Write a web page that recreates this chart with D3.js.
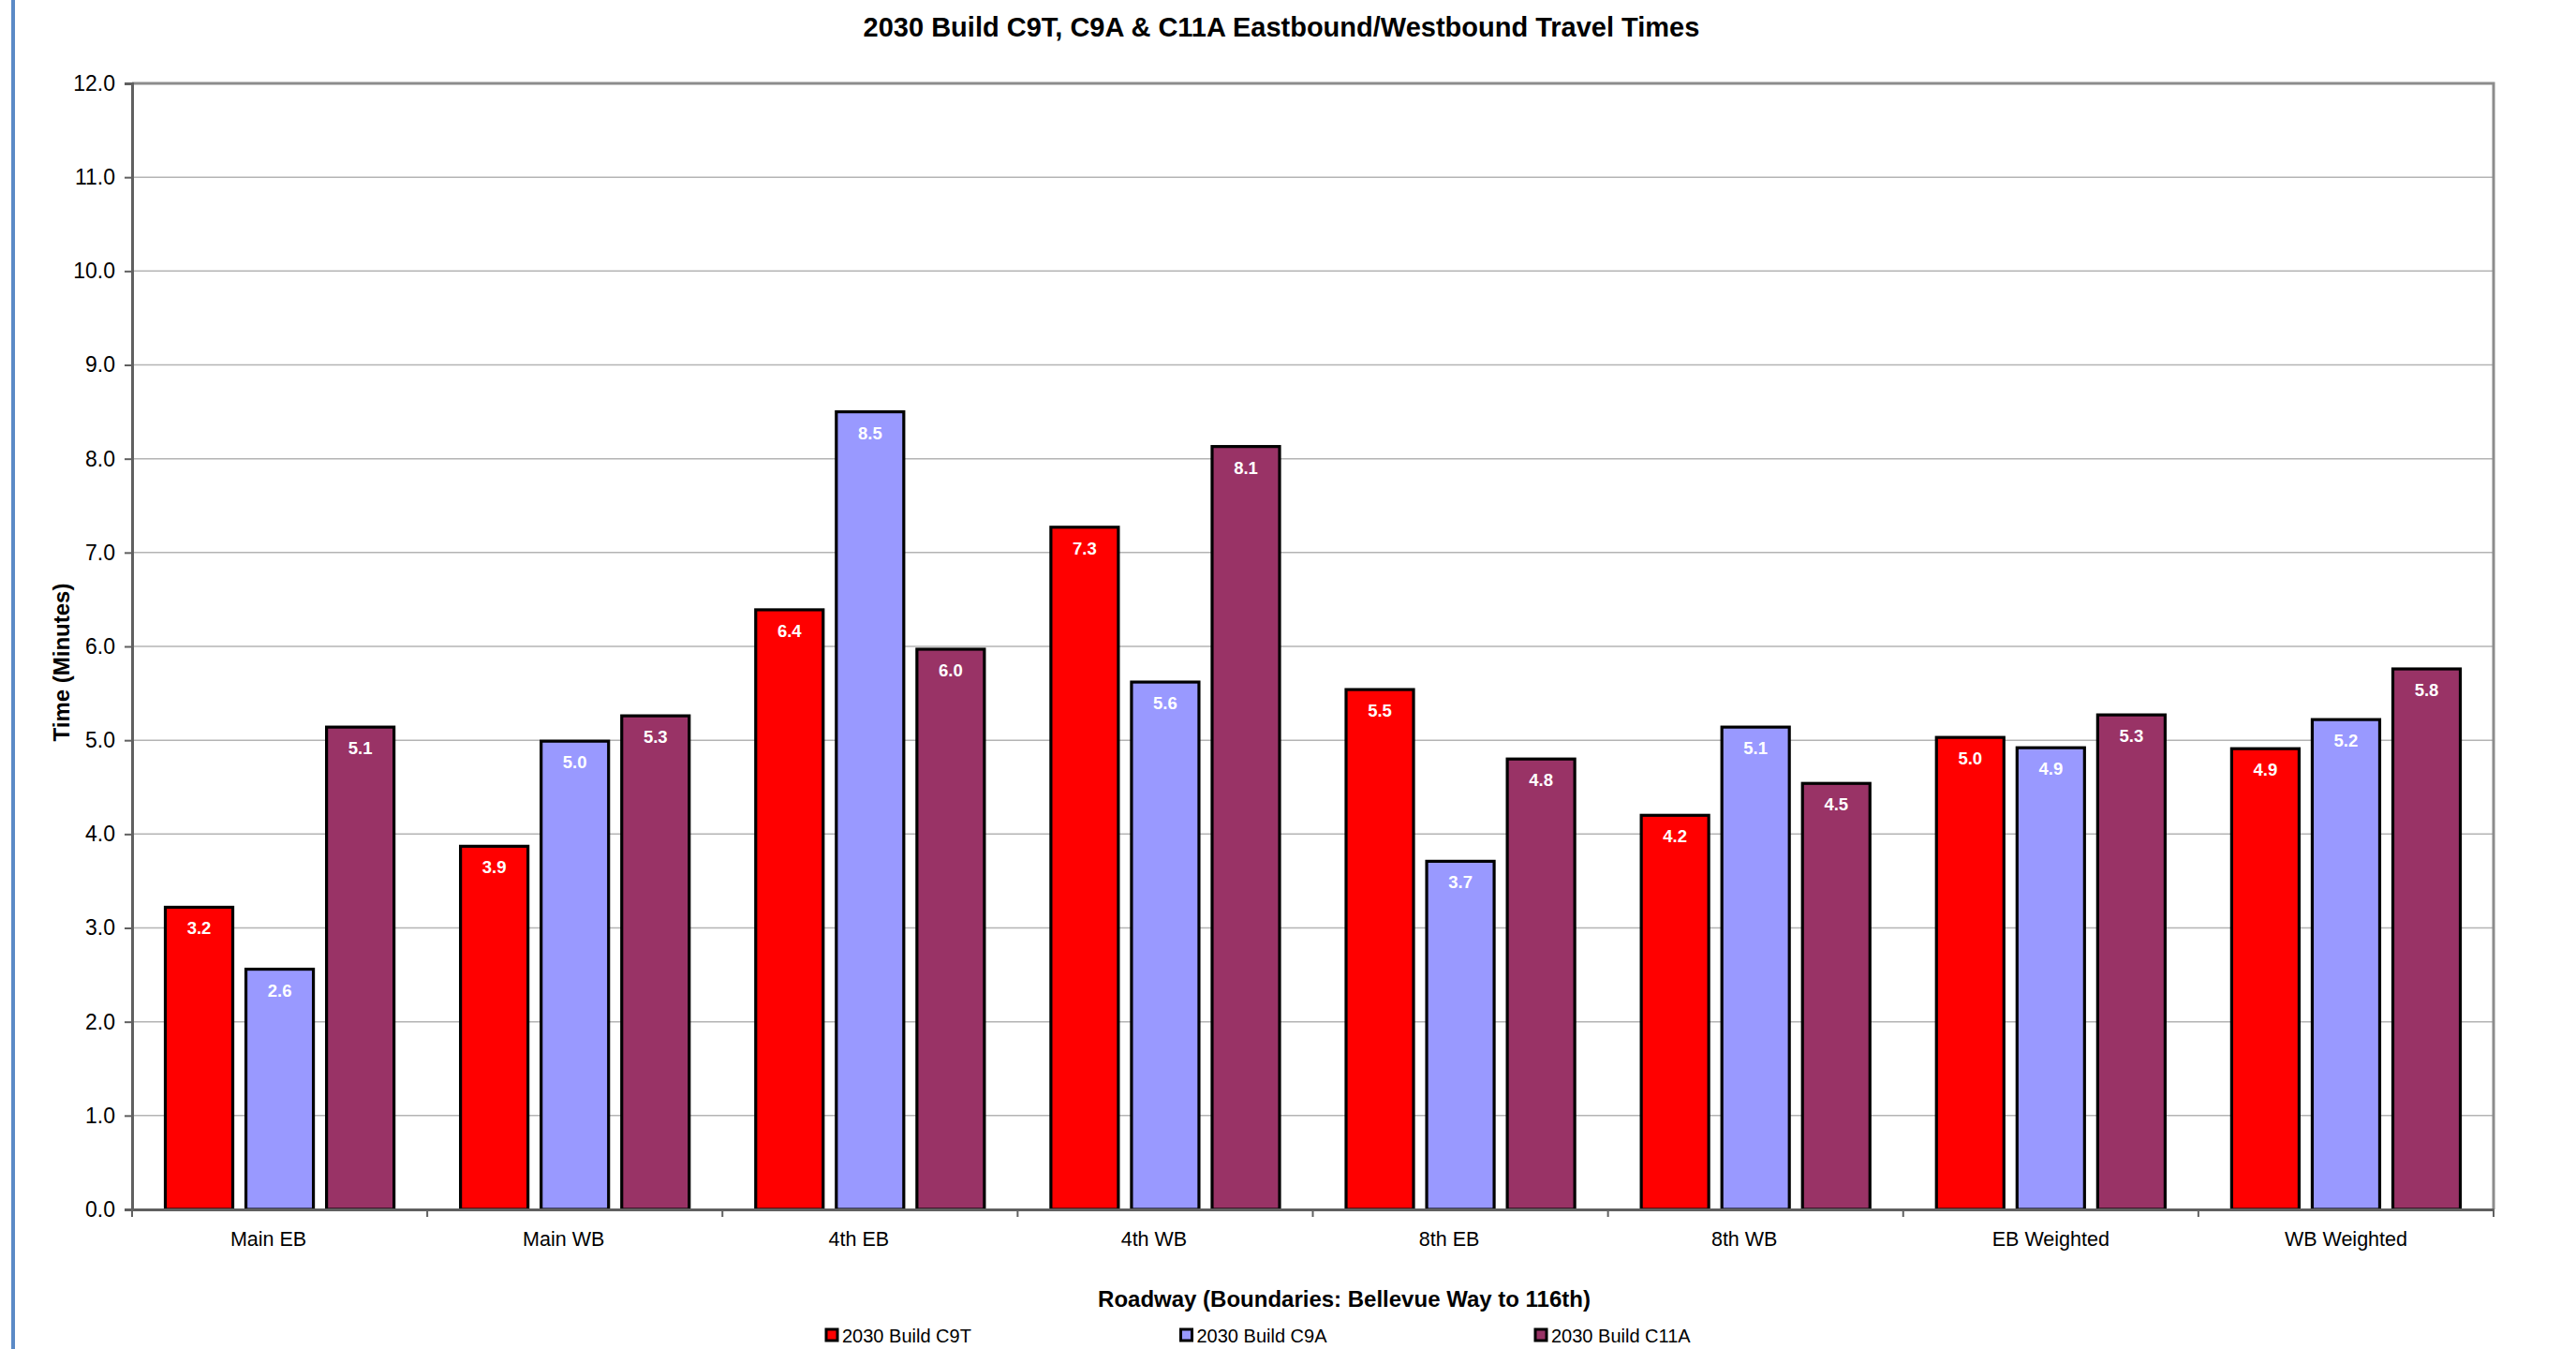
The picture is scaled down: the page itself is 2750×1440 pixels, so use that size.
<!DOCTYPE html>
<html>
<head>
<meta charset="utf-8">
<script src="https://cdn.jsdelivr.net/npm/d3@7"></script>
<style>
  body { margin: 0; background: #fff; }
  svg { display: block; font-family: 'Liberation Sans', Arial, sans-serif; }
</style>
</head>
<body>
<div id="chart"></div>
<script>
// data
var categories = ['Main EB', 'Main WB', '4th EB', '4th WB', '8th EB', '8th WB', 'EB Weighted', 'WB Weighted']
var seriesNames = ['2030 Build C9T', '2030 Build C9A', '2030 Build C11A']
var c9t = [3.22, 3.87, 6.39, 7.27, 5.54, 4.2, 5.03, 4.91]
var c9a = [2.56, 4.99, 8.5, 5.62, 3.71, 5.14, 4.92, 5.22]
var c11a = [5.14, 5.26, 5.97, 8.13, 4.8, 4.54, 5.27, 5.76]
var yTicks = [0, 1, 2, 3, 4, 5, 6, 7, 8, 9, 10, 11, 12]

var colors = ['#FF0000', '#9999FF', '#993366']
var seriesValues = [c9t, c9a, c11a]

var width = 2750
var height = 1440
var plot = { left: 141, top: 89, right: 2662, bottom: 1291 }

var svg = d3
  .select('#chart')
  .append('svg')
  .attr('width', width)
  .attr('height', height)

// blue rule on the left edge
svg
  .append('rect')
  .attr('x', 12)
  .attr('y', 0)
  .attr('width', 4)
  .attr('height', height)
  .attr('fill', '#5B8AC6')

var x0 = d3.scaleBand().domain(categories).range([plot.left, plot.right])
var x1 = d3
  .scaleBand()
  .domain(d3.range(3))
  .range([35.5, x0.bandwidth() - 35.5])
  .paddingInner(0.163)
var y = d3.scaleLinear().domain([0, 12]).range([plot.bottom, plot.top])

// gridlines
svg
  .append('g')
  .selectAll('line')
  .data(yTicks.slice(1, -1))
  .join('line')
  .attr('x1', plot.left)
  .attr('x2', plot.right)
  .attr('y1', (d) => y(d))
  .attr('y2', (d) => y(d))
  .attr('stroke', '#B4B4B4')
  .attr('stroke-width', 1.5)

// plot frame top / right
svg
  .append('path')
  .attr('d', 'M' + plot.left + ',' + y(12) + 'H' + plot.right + 'V' + plot.bottom)
  .attr('fill', 'none')
  .attr('stroke', '#8C8C8C')
  .attr('stroke-width', 3)

// bars
var rows = []
categories.forEach(function (c, i) {
  seriesValues.forEach(function (vals, s) {
    rows.push({ cat: c, s: s, value: vals[i] })
  })
})

var bars = svg.append('g')
bars
  .selectAll('rect')
  .data(rows)
  .join('rect')
  .attr('x', (d) => x0(d.cat) + x1(d.s))
  .attr('y', (d) => y(d.value))
  .attr('width', x1.bandwidth())
  .attr('height', (d) => y(0) - y(d.value))
  .attr('fill', (d) => colors[d.s])
  .attr('stroke', '#000')
  .attr('stroke-width', 3.2)

bars
  .selectAll('text')
  .data(rows)
  .join('text')
  .attr('x', (d) => x0(d.cat) + x1(d.s) + x1.bandwidth() / 2)
  .attr('y', (d) => y(d.value) + 29)
  .attr('text-anchor', 'middle')
  .attr('font-size', 18.5)
  .attr('font-weight', 'bold')
  .attr('fill', '#fff')
  .text((d) => d3.format('.1f')(d.value))

// y axis
var yAxis = svg
  .append('g')
  .attr('transform', 'translate(' + plot.left + ',0)')
  .call(
    d3
      .axisLeft(y)
      .tickValues(yTicks)
      .tickFormat(d3.format('.1f'))
      .tickSize(8)
      .tickPadding(10)
  )
yAxis.select('.domain').attr('stroke', '#606060').attr('stroke-width', 3)
yAxis.selectAll('.tick line').attr('stroke', '#606060').attr('stroke-width', 2)
yAxis
  .selectAll('.tick text')
  .attr('font-size', 23)
  .attr('fill', '#000')
  .attr('font-family', "'Liberation Sans', Arial, sans-serif")

// x axis
var xAxis = svg
  .append('g')
  .attr('transform', 'translate(0,' + plot.bottom + ')')
  .call(d3.axisBottom(x0).tickSize(0).tickPadding(24))
xAxis.select('.domain').attr('stroke', '#606060').attr('stroke-width', 3)
xAxis
  .selectAll('.tick text')
  .attr('font-size', 21.5)
  .attr('fill', '#000')
  .attr('font-family', "'Liberation Sans', Arial, sans-serif")
  // the short street labels sit a little left of centre in the original
  .attr('dx', (d) => (d.indexOf('Weighted') < 0 ? -12 : 0))

// category boundary ticks
svg
  .append('g')
  .selectAll('line')
  .data(categories.concat(['end']))
  .join('line')
  .attr('x1', (d, i) => plot.left + i * x0.step())
  .attr('x2', (d, i) => plot.left + i * x0.step())
  .attr('y1', plot.bottom)
  .attr('y2', plot.bottom + 8)
  .attr('stroke', '#606060')
  .attr('stroke-width', 2)

// titles
svg
  .append('text')
  .attr('x', 1368)
  .attr('y', 39)
  .attr('text-anchor', 'middle')
  .attr('font-size', 29)
  .attr('font-weight', 'bold')
  .text('2030 Build C9T, C9A & C11A Eastbound/Westbound Travel Times')

svg
  .append('text')
  .attr('x', 1435)
  .attr('y', 1395)
  .attr('text-anchor', 'middle')
  .attr('font-size', 24)
  .attr('font-weight', 'bold')
  .text('Roadway (Boundaries: Bellevue Way to 116th)')

svg
  .append('text')
  .attr('transform', 'translate(74,707) rotate(-90)')
  .attr('text-anchor', 'middle')
  .attr('font-size', 24)
  .attr('font-weight', 'bold')
  .text('Time (Minutes)')

// legend
var legend = svg
  .append('g')
  .selectAll('g')
  .data(seriesNames)
  .join('g')
  .attr('transform', (d, i) => 'translate(' + (882 + i * 378.5) + ',1419)')

legend
  .append('rect')
  .attr('width', 12)
  .attr('height', 12)
  .attr('fill', (d, i) => colors[i])
  .attr('stroke', '#000')
  .attr('stroke-width', 3)

legend
  .append('text')
  .attr('x', 17)
  .attr('y', 14)
  .attr('font-size', 20)
  .text((d) => d)
</script>
</body>
</html>
